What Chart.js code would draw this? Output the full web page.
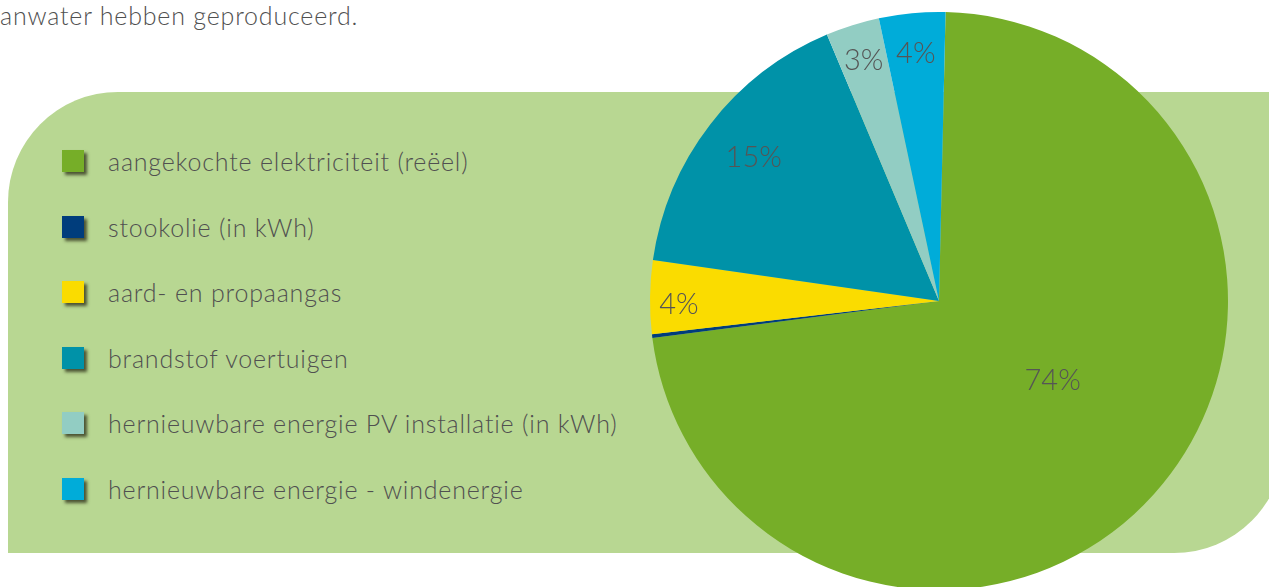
<!DOCTYPE html>
<html>
<head>
<meta charset="utf-8">
<script src="https://cdn.jsdelivr.net/npm/chart.js@4"></script>
<style>
  html, body { margin: 0; padding: 0; width: 1269px; height: 587px; overflow: hidden; background: #fff; }
  body { position: relative; font-family: 'Lato', 'Open Sans', sans-serif; font-weight: 300; color: #505050; }
  #intro { position: absolute; left: 0; top: 0px; font-size: 25px; letter-spacing: 0.8px; white-space: nowrap; }
  #panel { position: absolute; left: 8px; top: 92px; width: 1276px; height: 461px;
           background: #b8d792; border-radius: 110px 0 110px 0; }
  #legend { position: absolute; left: 62px; top: 150px; margin: 0; padding: 0; list-style: none; }
  #legend li { height: 65.5px; display: flex; align-items: flex-start; font-size: 25px; letter-spacing: 0.8px; white-space: nowrap; }
  #legend .box { width: 22px; height: 22px; margin-right: 24px; box-shadow: 3px 3px 3px rgba(40,40,20,0.75); flex: none; }
  #legend span.txt { line-height: 22px; margin-top: 0px; }
  #wrap { position: absolute; left: 639px; top: 1px; width: 600px; height: 600px; }
</style>
</head>
<body>
<div id="intro">anwater hebben geproduceerd.</div>
<div id="panel"></div>
<ul id="legend"></ul>
<div id="wrap"><canvas id="pie" width="600" height="600"></canvas></div>
<script>
// energy mix (share of total, %)
const labels = [
  'aangekochte elektriciteit (reëel)',
  'stookolie (in kWh)',
  'aard- en propaangas',
  'brandstof voertuigen',
  'hernieuwbare energie PV installatie (in kWh)',
  'hernieuwbare energie - windenergie'
];
const values = [72.6, 0.2, 4.1, 16.4, 3.0, 3.7];
const pctText = ['74%', '', '4%', '15%', '3%', '4%'];
const colors = ['#76ae28', '#003d7c', '#fadc00', '#0092a8', '#92cdc3', '#00acd9'];

// draw the percentage text inside each slice
const sliceLabels = {
  id: 'sliceLabels',
  afterDatasetsDraw(chart, args, opts) {
    const ctx = chart.ctx;
    const arcs = chart.getDatasetMeta(0).data;
    ctx.save();
    ctx.font = opts.font;
    ctx.fillStyle = opts.color;
    ctx.textAlign = 'center';
    ctx.textBaseline = 'middle';
    arcs.forEach((arc, i) => {
      const txt = pctText[i];
      if (!txt) return;
      const p = arc.getProps(['x', 'y', 'startAngle', 'endAngle', 'outerRadius'], true);
      const mid = (p.startAngle + p.endAngle) / 2 + opts.shift[i] * Math.PI / 180;
      const r = p.outerRadius * opts.radius[i];
      ctx.fillText(txt, p.x + Math.cos(mid) * r, p.y + Math.sin(mid) * r);
    });
    ctx.restore();
  }
};

const chart = new Chart(document.getElementById('pie'), {
  type: 'pie',
  data: {
    labels,
    datasets: [{ data: values, backgroundColor: colors, borderWidth: 0 }]
  },
  options: {
    responsive: false,
    animation: false,
    rotation: 1.3,
    layout: { padding: 11 },
    plugins: {
      legend: { display: false },
      tooltip: { enabled: false },
      sliceLabels: {
        font: '300 29px Lato, "Open Sans", sans-serif',
        color: '#555555',
        radius: [0.48, 0, 0.90, 0.81, 0.87, 0.86],
        shift: [-7, 0, -1.5, 0, 0, 0]
      }
    }
  },
  plugins: [sliceLabels]
});

// html legend built from the chart's data
const ul = document.getElementById('legend');
chart.data.labels.forEach((lab, i) => {
  const li = document.createElement('li');
  li.innerHTML = `<span class="box" style="background:${colors[i]}"></span><span class="txt">${lab}</span>`;
  ul.appendChild(li);
});
</script>
</body>
</html>
